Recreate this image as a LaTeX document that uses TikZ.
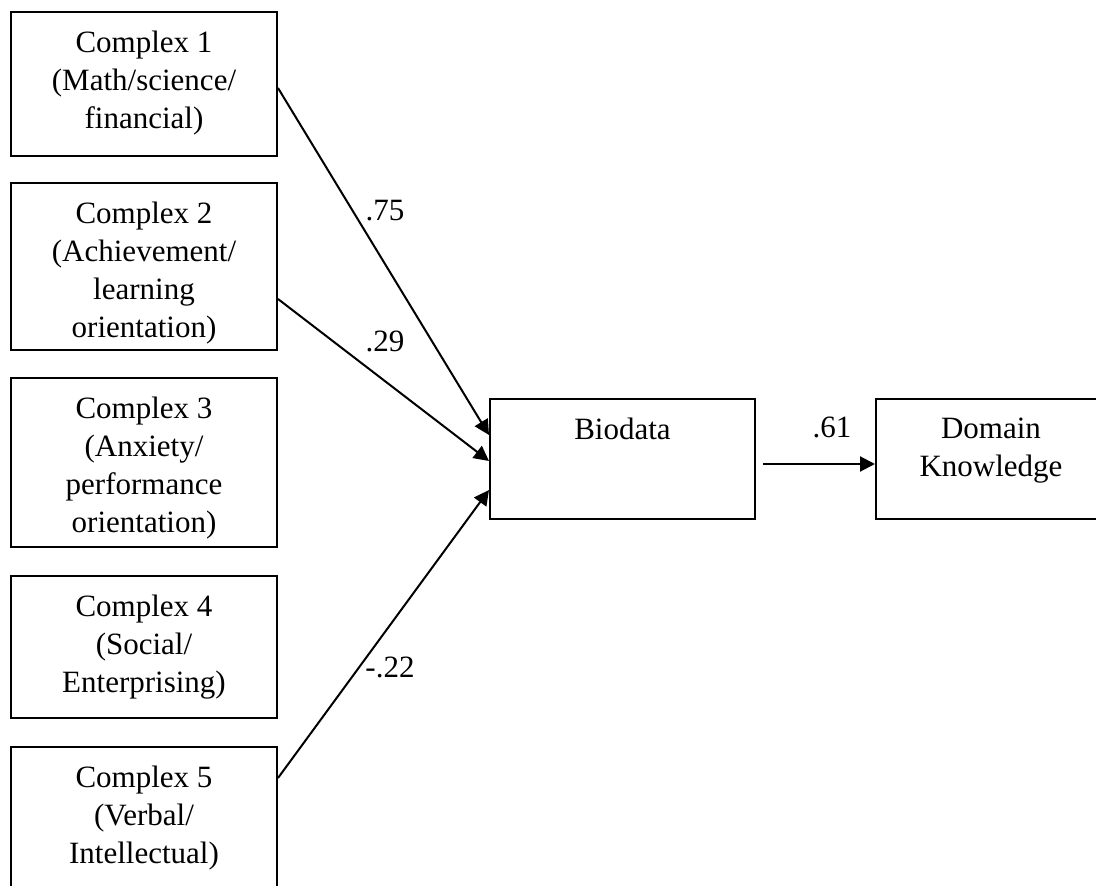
\documentclass[tikz,border=0pt]{standalone}
\usepackage{fontspec}
\setmainfont{Liberation Serif}
\usetikzlibrary{arrows.meta}

\tikzset{
  box/.style={draw, line width=0.8pt, rectangle, anchor=north west, inner sep=0pt, minimum width=106.4pt},
  boxtext/.style={anchor=north, inner sep=0pt, align=center, yshift=-7.8pt, font=\fontsize{12.4}{15.2}\selectfont},
  coef/.style={inner sep=0pt, font=\fontsize{12.4}{15.2}\selectfont},
  link/.style={line width=0.8pt, -{Triangle[length=6pt, width=6pt]}}
}

\begin{document}
\begin{tikzpicture}[x=0.4pt, y=-0.4pt]
    \useasboundingbox (0,0) rectangle (1096,886);

    % the five complexes
    \node[box, minimum height=57.6pt] (c1) at (10,11) {};
    \node[box, minimum height=66.8pt] (c2) at (10,182) {};
    \node[box, minimum height=67.6pt] (c3) at (10,377) {};
    \node[box, minimum height=56.8pt] (c4) at (10,575) {};
    \node[box, minimum height=58.4pt] (c5) at (10,746) {};

    \node[boxtext] (c1t) at (c1.north) {Complex 1\\(Math/science/\\financial)};
    \node[boxtext] (c2t) at (c2.north) {Complex 2\\(Achievement/\\learning\\orientation)};
    \node[boxtext] (c3t) at (c3.north) {Complex 3\\(Anxiety/\\performance\\orientation)};
    \node[boxtext] (c4t) at (c4.north) {Complex 4\\(Social/\\Enterprising)};
    \node[boxtext] (c5t) at (c5.north) {Complex 5\\(Verbal/\\Intellectual)};

    % biodata and outcome
    \node[box, minimum width=106pt, minimum height=48pt] (bio) at (489,398) {};
    \node[box, minimum width=92pt, minimum height=48pt] (dk) at (875,398) {};
    \node[boxtext] (biot) at (bio.north) {Biodata};
    \node[boxtext] (dkt) at (dk.north) {Domain\\Knowledge};

    \draw[link] ([yshift=-1.6pt]c1.east) -- ([yshift=9.6pt]bio.west);
    \draw[link] ([yshift=-13pt]c2.east) -- ([yshift=-0.8pt]bio.west);
    \draw[link] ([yshift=16.8pt]c5.east) -- ([yshift=-12.4pt]bio.west);
    \draw[link] ([xshift=2.8pt, yshift=-2pt]bio.east) -- ([yshift=-2pt]dk.west);

    \node[coef] (k75) at (385,211) {.75};
    \node[coef] (k29) at (385,341) {.29};
    \node[coef] (k22) at (390,667) {-.22};
    \node[coef] (k61) at (832,427) {.61};
\end{tikzpicture}
\end{document}
